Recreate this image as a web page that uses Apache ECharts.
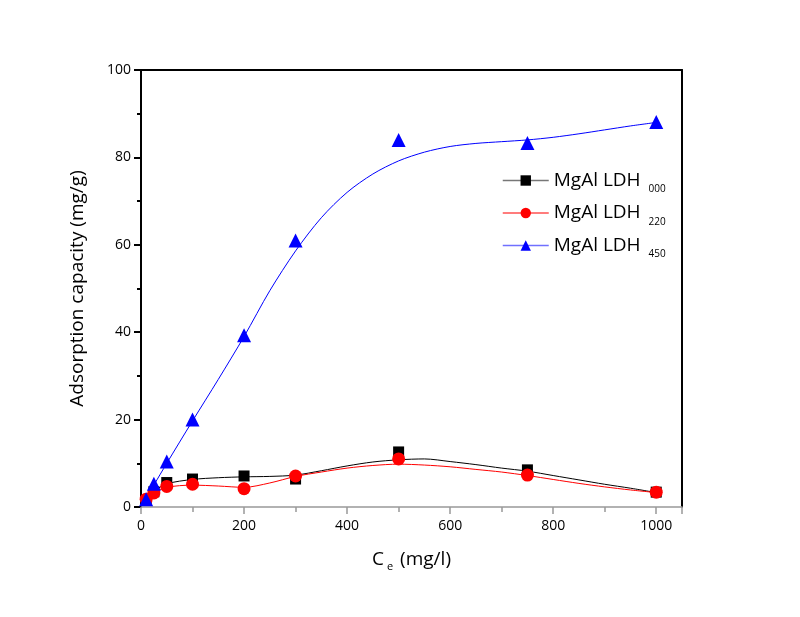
<!DOCTYPE html>
<html><head><meta charset="utf-8">
<script src="https://cdn.jsdelivr.net/npm/echarts@6/dist/echarts.min.js"></script>
<style>html,body{margin:0;padding:0;background:#fff}#c{width:800px;height:617px}</style>
</head><body><div id="c"></div>
<script>
// Measured points
const xVals = [10, 25, 50, 100, 200, 300, 500, 750, 1000];
const ldh000 = [1.5, 3.5, 5.6, 6.4, 7.1, 6.4, 12.6, 8.5, 3.4];
const ldh220 = [1.8, 3.2, 4.7, 5.2, 4.2, 7.1, 11.0, 7.3, 3.4];
const ldh450 = [1.8, 5.3, 10.4, 20.0, 39.3, 61.0, 84.0, 83.3, 88.1];
// Fitted curves
const curveX = [5, 25, 50, 100, 150, 200, 250, 300, 350, 400, 450, 500, 550, 600, 650, 700, 750, 800, 850, 900, 950, 1000];
const curve000 = [1.5, 3.6, 5.3, 6.3, 6.7, 6.9, 7.0, 7.3, 8.3, 9.4, 10.3, 10.8, 11.0, 10.4, 9.7, 8.9, 8.2, 7.2, 6.2, 5.2, 4.3, 3.3];
const curve220 = [1.5, 3.2, 4.5, 5.0, 4.8, 4.5, 5.5, 7.0, 8.0, 8.9, 9.5, 9.8, 9.6, 9.2, 8.6, 8.0, 7.2, 6.3, 5.4, 4.6, 3.9, 3.3];
const curve450 = [0.8, 5.0, 10.0, 19.7, 29.2, 39.0, 49.5, 58.6, 66.2, 72.0, 76.2, 79.2, 81.2, 82.5, 83.2, 83.6, 84.0, 84.6, 85.4, 86.3, 87.2, 88.0];
const names = ['MgAl LDH{s|000}', 'MgAl LDH{s|220}', 'MgAl LDH{s|450}'];
const colors = ['#000000', '#ff0000', '#0000ff'];
const legendLineColors = ['#777777', '#ff5050', '#7070ff'];
const symbols = ['rect', 'circle', 'triangle'];
const symSizes = [11, 13, 14];

const zip = (xs, ys) => xs.map((x, i) => [x, ys[i]]);
const pts = [ldh000, ldh220, ldh450];
const curves = [curve000, curve220, curve450];

const series = [];
for (let i = 0; i < 3; i++) {
  series.push({
    name: names[i], type: 'line', smooth: 0.3,
    data: zip(curveX, curves[i]),
    showSymbol: false, symbol: symbols[i], symbolSize: symSizes[i],
    itemStyle: {color: colors[i]},
    lineStyle: {color: colors[i], width: 1},
    emphasis: {disabled: true}, z: 2
  });
}
for (let i = 0; i < 3; i++) {
  series.push({
    name: names[i], type: 'scatter',
    data: zip(xVals, pts[i]),
    symbol: symbols[i], symbolSize: symSizes[i],
    itemStyle: {color: colors[i], opacity: 1},
    z: 3
  });
}

const font = 'Open Sans';
const chart = echarts.init(document.getElementById('c'));
chart.setOption({
  animation: false,
  backgroundColor: '#fff',
  textStyle: {fontFamily: font},
  grid: {left: 141, right: 118, top: 70, bottom: 110},
  legend: {
    orient: 'vertical', left: 497, top: 166, itemGap: 9,
    itemWidth: 46, itemHeight: 13,
    data: names.map((n, i) => ({name: n, lineStyle: {color: legendLineColors[i], width: 1.5}})),
    textStyle: {
      fontFamily: font, fontSize: 19, color: '#000',
      rich: {s: {fontSize: 10, fontFamily: font, padding: [18, 0, 0, 8], color: '#000'}}
    }
  },
  xAxis: [{
    type: 'value', min: 0, max: 1050, interval: 200,
    name: 'C{e|e} (mg/l)', nameLocation: 'middle', nameGap: 40,
    nameTextStyle: {fontSize: 19, color: '#000', fontFamily: font,
      rich: {e: {fontSize: 11, padding: [14, 2, 0, 3], fontFamily: font}}},
    axisLine: {lineStyle: {color: '#999', width: 1.5}},
    axisTick: {length: 7, lineStyle: {color: '#999', width: 1.5}},
    minorTick: {show: true, splitNumber: 2, length: 5, lineStyle: {color: '#999', width: 1.5}},
    axisLabel: {fontSize: 14, color: '#000', margin: 12, fontFamily: font,
      formatter: v => (v > 1000 ? '' : v)},
    splitLine: {show: false}
  }, {
    type: 'value', position: 'top', min: 0, max: 1050,
    axisLine: {show: true, onZero: false, lineStyle: {color: '#000', width: 2}},
    axisTick: {show: false}, axisLabel: {show: false}, splitLine: {show: false}
  }],
  yAxis: [{
    type: 'value', min: 0, max: 100, interval: 20,
    name: 'Adsorption capacity (mg/g)', nameLocation: 'middle', nameGap: 54,
    nameTextStyle: {fontSize: 19, color: '#000', fontFamily: font},
    axisLine: {show: true, lineStyle: {color: '#000', width: 2}},
    axisTick: {show: true, length: 7, lineStyle: {color: '#000', width: 2}},
    minorTick: {show: true, splitNumber: 2, length: 4, lineStyle: {color: '#000', width: 2}},
    axisLabel: {fontSize: 14, color: '#000', margin: 10, fontFamily: font},
    splitLine: {show: false}
  }, {
    type: 'value', position: 'right', min: 0, max: 100,
    axisLine: {show: true, onZero: false, lineStyle: {color: '#000', width: 2}},
    axisTick: {show: false}, axisLabel: {show: false}, splitLine: {show: false}
  }],
  series: series
});
</script>
</body></html>
